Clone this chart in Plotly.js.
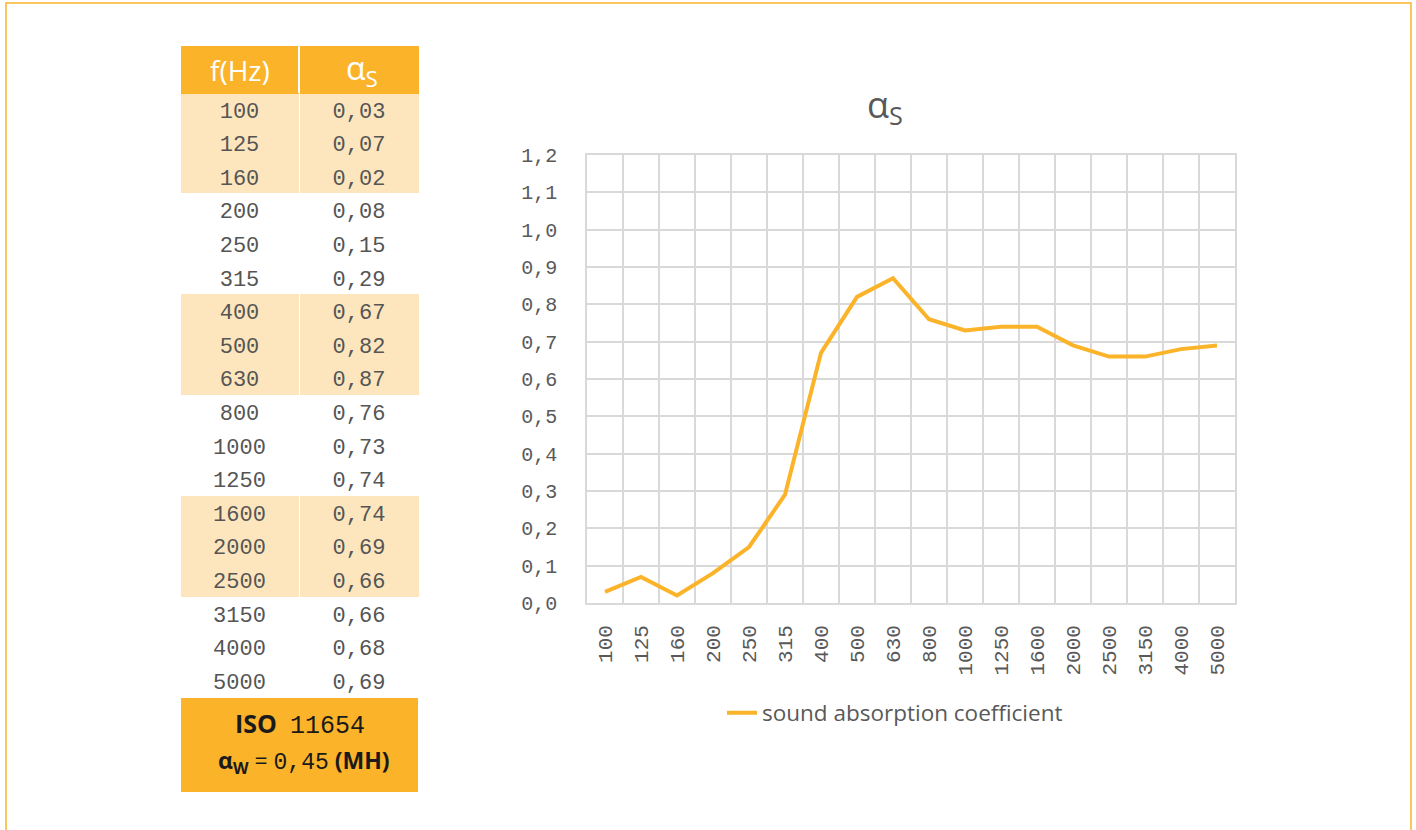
<!DOCTYPE html>
<html>
<head>
<meta charset="utf-8">
<script src="https://cdn.plot.ly/plotly-3.0.1.min.js"></script>
<style>
  html, body { margin: 0; padding: 0; background: #ffffff; }
  #chart { width: 1416px; height: 830px; }
</style>
</head>
<body>
<div id="chart"></div>
<script>
// ---- data ----
const frequencies = ['100','125','160','200','250','315','400','500','630','800','1000','1250','1600','2000','2500','3150','4000','5000'];
const alphaS = [0.03, 0.07, 0.02, 0.08, 0.15, 0.29, 0.67, 0.82, 0.87, 0.76, 0.73, 0.74, 0.74, 0.69, 0.66, 0.66, 0.68, 0.69];
const headerLabels = ['f(Hz)', 'α<sub>S</sub>'];
const seriesName = 'sound absorption coefficient';
const chartTitle = 'α<sub>S</sub>';
const footerLine1 = '<b>ISO</b>&nbsp; <span style="font-family:Liberation Mono">11654</span>';
const footerLine2 = '<b>α<sub>W</sub></b> = <span style="font-family:Liberation Mono">0,45</span> <b>(MH)</b>';

// ---- styles ----
const W = 1416, H = 830;
const ORANGE = '#fbb42a';
const LIGHT = '#fde6bd';
const GRAY = '#595959';
const MONO = 'Liberation Mono, DejaVu Sans Mono, monospace';
const SANS = 'Open Sans, Noto Sans, sans-serif';

const px = v => v / W;
const py = v => 1 - v / H;

const alphaText = alphaS.map(v => v.toFixed(2).replace('.', ','));
const rowFill = frequencies.map((f, i) => (Math.floor(i / 3) % 2 === 0) ? LIGHT : '#ffffff');

function tableCol(values, x0, x1) {
  return {
    type: 'table',
    domain: {x: [px(x0), px(x1)], y: [py(701), py(46)]},
    columnwidth: [1],
    header: {
      values: [''],
      height: 47,
      fill: {color: ORANGE},
      line: {color: ORANGE, width: 1},
      font: {family: SANS, size: 12, color: '#ffffff'}
    },
    cells: {
      values: [values],
      align: 'center',
      height: 33.6,
      fill: {color: [rowFill]},
      line: {color: [rowFill], width: 1},
      font: {family: MONO, size: 22, color: '#555555'}
    }
  };
}

const line = {
  type: 'scatter',
  mode: 'lines',
  x: frequencies,
  y: alphaS,
  name: seriesName,
  line: {color: ORANGE, width: 4},
  showlegend: true,
  hoverinfo: 'x+y'
};

const layout = {
  width: W, height: H,
  margin: {l: 0, r: 0, t: 0, b: 0},
  paper_bgcolor: '#ffffff',
  plot_bgcolor: '#ffffff',
  separators: ', ',
  title: {
    text: chartTitle,
    x: px(885), xref: 'paper', xanchor: 'center',
    y: py(105), yref: 'paper', yanchor: 'middle',
    font: {family: SANS, size: 36, color: GRAY}
  },
  xaxis: {
    type: 'category',
    domain: [px(587), px(1235)],
    range: [-0.5, 17.5],
    tickson: 'boundaries',
    showgrid: true,
    gridcolor: '#d9d9d9',
    gridwidth: 1.5,
    showline: true, linecolor: '#d9d9d9', linewidth: 1.5, mirror: true,
    ticks: '',
    tickangle: -90,
    ticklabelstandoff: 12,
    tickfont: {family: MONO, size: 21, color: GRAY},
    zeroline: false,
    fixedrange: true
  },
  yaxis: {
    domain: [py(603), py(155)],
    range: [0, 1.2],
    dtick: 0.1,
    tick0: 0,
    tickformat: '.1f',
    showgrid: true,
    gridcolor: '#d9d9d9',
    gridwidth: 1.5,
    showline: true, linecolor: '#d9d9d9', linewidth: 1.5, mirror: true,
    ticks: '',
    ticklabelstandoff: 24,
    tickfont: {family: MONO, size: 20, color: GRAY},
    zeroline: false,
    fixedrange: true
  },
  legend: {
    orientation: 'h',
    x: px(895), xanchor: 'center',
    y: py(713), yanchor: 'middle',
    font: {family: SANS, size: 22.5, color: GRAY},
    bgcolor: 'rgba(0,0,0,0)'
  },
  shapes: [
    {type: 'rect', xref: 'paper', yref: 'paper', x0: px(6), x1: px(1411), y0: py(831), y1: py(3),
     line: {color: ORANGE, width: 1.5}, fillcolor: 'rgba(0,0,0,0)', layer: 'below'},
    {type: 'line', xref: 'paper', yref: 'paper', x0: px(299), x1: px(299), y0: py(93), y1: py(46),
     line: {color: '#ffffff', width: 2}, layer: 'above'},
    {type: 'rect', xref: 'paper', yref: 'paper', x0: px(181), x1: px(418), y0: py(792), y1: py(698),
     line: {width: 0}, fillcolor: ORANGE, layer: 'above'}
  ],
  annotations: [
    {xref: 'paper', yref: 'paper', x: px(240), y: py(70), xanchor: 'center', yanchor: 'middle', showarrow: false,
     text: headerLabels[0], font: {family: SANS, size: 28, color: '#ffffff'}},
    {xref: 'paper', yref: 'paper', x: px(362), y: py(70), xanchor: 'center', yanchor: 'middle', showarrow: false,
     text: headerLabels[1], font: {family: SANS, size: 32, color: '#ffffff'}},
    {xref: 'paper', yref: 'paper', x: px(300), y: py(723), xanchor: 'center', yanchor: 'middle', showarrow: false,
     text: footerLine1, font: {family: SANS, size: 25, color: '#1a1a1a'}},
    {xref: 'paper', yref: 'paper', x: px(304), y: py(761), xanchor: 'center', yanchor: 'middle', showarrow: false,
     text: footerLine2, font: {family: SANS, size: 23, color: '#1a1a1a'}}
  ]
};

Plotly.newPlot('chart', [
  tableCol(frequencies, 181, 298),
  tableCol(alphaText, 300, 418),
  line
], layout, {displayModeBar: false});
</script>
</body>
</html>
